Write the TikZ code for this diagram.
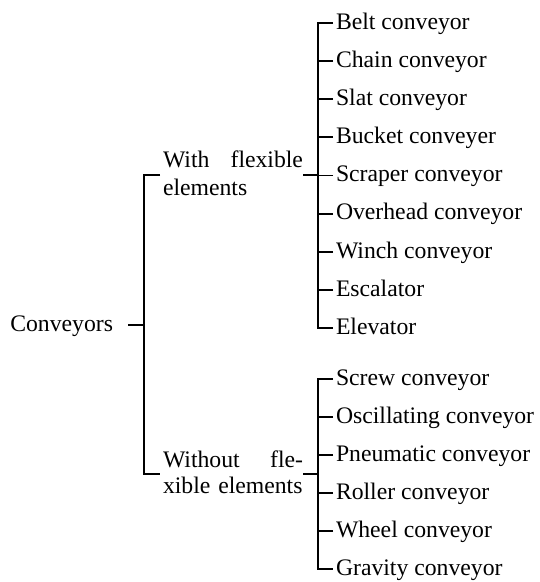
\documentclass[tikz,border=0pt]{standalone}
\usepackage{fontspec}
\setmainfont{Liberation Serif}
\begin{document}
\begin{tikzpicture}[x=1pt,y=-1pt,
  every node/.style={inner sep=0pt,outer sep=0pt,font=\fontsize{23.7}{27}\selectfont},
  item/.style={anchor=base west},
  grp/.style={anchor=base west,text width=140pt,align=left},
  conn/.style={line width=1.9pt,line cap=butt,line join=miter}]
\useasboundingbox (0,0) rectangle (540,582);
% root
\node[anchor=base east] (c) at (113,331.5) {Conveyors};
% group labels
\node[grp] (g1) at (163,167) {With\hfill flexible\\[1pt]elements};
\node[grp] (g2) at (163,467) {Without\hfill fle-\\[-1pt]xible elements};
% first list
\foreach \t [count=\k] in {Belt conveyor,Chain conveyor,Slat conveyor,Bucket conveyer,Scraper conveyor,Overhead conveyor,Winch conveyor,Escalator,Elevator}
  \node[item] (a\k) at (336,{29.3+(\k-1)*38.125}) {\t};
% second list
\foreach \t [count=\k] in {Screw conveyor,Oscillating conveyor,Pneumatic conveyor,Roller conveyor,Wheel conveyor,Gravity conveyor}
  \node[item] (b\k) at (336,{385.3+(\k-1)*38}) {\t};
% root connectors
\draw[conn] ([shift={(15,-6.5)}]c.base east) -- ++(16,0);
\draw[conn] ([shift={(-3,8)}]g1.base west) -| ([shift={(-19,7)}]g2.base west) -- ([shift={(-3,7)}]g2.base west);
% group to list
\draw[conn] ([shift={(0,8)}]g1.base east) -- ++(15,0);
\draw[conn] ([shift={(0,7)}]g2.base east) -- ++(15,0);
% list brackets
\draw[conn] ([shift={(-3,-6.3)}]a1.base west) -| ([shift={(-18,-6.3)}]a9.base west) -- ([shift={(-3,-6.3)}]a9.base west);
\foreach \k in {2,...,8}
  \draw[conn] ([shift={(-3,-6.3)}]a\k.base west) -- ++(-15,0);
\draw[conn] ([shift={(-3,-6.3)}]b1.base west) -| ([shift={(-18,-6.3)}]b6.base west) -- ([shift={(-3,-6.3)}]b6.base west);
\foreach \k in {2,...,5}
  \draw[conn] ([shift={(-3,-6.3)}]b\k.base west) -- ++(-15,0);
\end{tikzpicture}
\end{document}
